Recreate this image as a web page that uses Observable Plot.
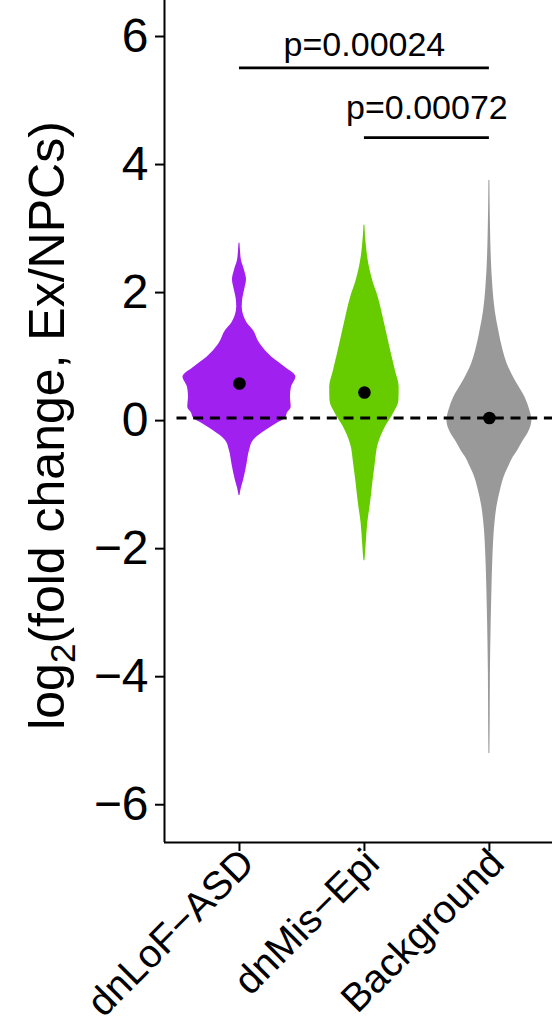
<!DOCTYPE html>
<html><head><meta charset="utf-8">
<script src="https://cdn.jsdelivr.net/npm/d3@7"></script>
<script src="https://cdn.jsdelivr.net/npm/@observablehq/plot@0.6"></script>
<style>
html,body{margin:0;padding:0;background:#fff;overflow:hidden}
</style></head><body><div id="chart"></div>
<script>
// ---- data ----
const categories = ["dnLoF−ASD", "dnMis−Epi", "Background"];
const colors = ["#A020F0", "#66CC00", "#999999"];
const means = [0.58, 0.44, 0.04];
const refLine = 0.04;          // dashed reference level
const refFrom = 0.5;            // dashed line starts here (category units)
const yTicks = [-6, -4, -2, 0, 2, 4, 6];
const yTitle = "log2(fold change, Ex/NPCs)";

// violin profiles: y values and half-widths (in category units)
const lofY = [2.77, 2.65, 2.5, 2.35, 2.2, 2.05, 1.9, 1.77, 1.65, 1.53, 1.41, 1.2, 0.99, 0.83, 0.68, 0.52, 0.37, 0.21, 0.12, 0.04, -0.05, -0.16, -0.31, -0.47, -0.68, -0.94, -1.05, -1.17];
const lofW = [0.004, 0.008, 0.016, 0.04, 0.056, 0.042, 0.026, 0.022, 0.032, 0.06, 0.11, 0.164, 0.26, 0.368, 0.452, 0.416, 0.408, 0.414, 0.384, 0.368, 0.296, 0.208, 0.112, 0.08, 0.06, 0.032, 0.016, 0.004];
const misY = [3.05, 2.9, 2.76, 2.55, 2.34, 2.15, 1.98, 1.61, 1.30, 1.04, 0.78, 0.52, 0.31, 0.10, -0.10, -0.36, -0.68, -0.99, -1.30, -1.61, -1.93, -2.1, -2.19];
const misW = [0.004, 0.008, 0.014, 0.026, 0.046, 0.072, 0.102, 0.15, 0.186, 0.216, 0.248, 0.278, 0.276, 0.23, 0.168, 0.112, 0.086, 0.066, 0.048, 0.026, 0.014, 0.008, 0.004];
const bgY = [3.75, 3.5, 3.0, 2.6, 2.08, 1.72, 1.41, 1.09, 0.89, 0.63, 0.36, 0.16, 0.0, -0.21, -0.31, -0.47, -0.57, -0.73, -0.83, -1.09, -1.35, -1.61, -2.14, -2.66, -3.18, -3.96, -4.74, -5.2];
const bgW = [0.004, 0.005, 0.009, 0.014, 0.028, 0.046, 0.074, 0.11, 0.142, 0.206, 0.286, 0.324, 0.34, 0.306, 0.272, 0.226, 0.192, 0.152, 0.128, 0.088, 0.06, 0.044, 0.028, 0.02, 0.014, 0.008, 0.006, 0.004];

// significance brackets
const bracketFrom = [1, 2];
const bracketTo = [3, 3];
const bracketY = [5.51, 4.42];
const pLabels = ["p=0.00024", "p=0.00072"];
const pLabelY = [5.69, 4.71];

// ---- build tables ----
const profiles = [[lofY, lofW], [misY, misW], [bgY, bgW]];
const violin = profiles.flatMap(([ys, ws], i) =>
  ys.map((y, j) => ({cat: categories[i], pos: i + 1, y, w: ws[j]})));
const meanData = means.map((m, i) => ({cat: categories[i], pos: i + 1, y: m}));
const brackets = pLabels.map((p, i) => ({x1: bracketFrom[i], x2: bracketTo[i], y: bracketY[i], label: p, ly: pLabelY[i]}));

const xDomain = [0.4, 3.505];
const yDomain = [-6.59, 6.5625];
const font = "'Liberation Sans', Arial, Helvetica, sans-serif";

const chart = Plot.plot({
  width: 552,
  height: 1029,
  marginLeft: 164,
  marginRight: 0,
  marginTop: 0,
  marginBottom: 187,
  style: {fontFamily: font, background: "white", color: "black"},
  x: {domain: xDomain, axis: null},
  y: {domain: yDomain, axis: null},
  color: {domain: categories, range: colors},
  marks: [
    Plot.areaX(violin, {
      y: "y", x1: d => d.pos - d.w, x2: d => d.pos + d.w,
      z: "cat", fill: "cat", curve: "monotone-y"
    }),
    Plot.ruleY([refLine], {x1: refFrom, x2: xDomain[1], stroke: "black", strokeWidth: 3, strokeDasharray: "10,6.7"}),
    Plot.dot(meanData, {x: "pos", y: "y", r: 6.3, fill: "black", stroke: "none"}),
    Plot.ruleY(brackets, {x1: "x1", x2: "x2", y: "y", stroke: "black", strokeWidth: 2.7}),
    Plot.text(brackets, {x: d => (d.x1 + d.x2) / 2, y: "ly", text: "label", fontSize: 34, textAnchor: "middle", lineAnchor: "bottom", fill: "black"}),
    Plot.ruleX([xDomain[0]], {stroke: "black", strokeWidth: 2}),
    Plot.ruleY([yDomain[0]], {stroke: "black", strokeWidth: 2}),
    Plot.axisY({ticks: yTicks, tickFormat: "d", fontSize: 48, tickSize: 9, tickPadding: 7, strokeWidth: 2, label: null}),
    Plot.axisX({ticks: [1, 2, 3], tickFormat: i => categories[i - 1], tickRotate: -45, fontSize: 39.5, tickSize: 9, tickPadding: 5, strokeWidth: 2, label: null}),
    Plot.text([yTitle], {text: d => d, frameAnchor: "left", rotate: -90, dx: -101, dy: 4, fontSize: 50, textAnchor: "middle", lineAnchor: "bottom", fill: "black"})
  ]
});

document.getElementById("chart").appendChild(chart);

// shift rotated x tick labels slightly right, as in the reference
d3.select(chart).selectAll("text").filter(function () { return categories.includes(this.textContent); })
  .each(function () {
    const tr = this.getAttribute("transform") || "";
    this.setAttribute("transform", tr.replace(/translate\(([-\d.]+),([-\d.]+)\)/, (m, a, b) => `translate(${+a + 8},${b})`));
  });

// render the subscript in the y-axis title
const svg = d3.select(chart);
svg.selectAll("text").filter(function () { return this.textContent === yTitle; }).each(function () {
  const t = d3.select(this);
  t.text(null);
  t.append("tspan").text("log");
  t.append("tspan").attr("font-size", "35px").attr("dy", "11px").text("2");
  t.append("tspan").attr("dy", "-11px").text("(fold change, Ex/NPCs)");
});
</script>
</body></html>
